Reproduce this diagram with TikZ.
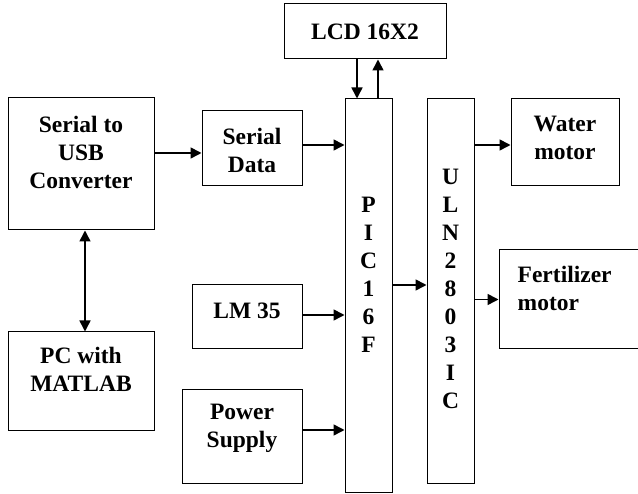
\documentclass[tikz,border=0pt]{standalone}
\usepackage{fontspec}
\setmainfont{Liberation Serif}
\usetikzlibrary{arrows.meta}

\tikzset{
  blk/.style={draw, line width=1pt, inner sep=0pt},
  txt/.style={font=\bfseries\fontsize{23.5}{28}\selectfont, align=center, inner sep=0pt},
  conn/.style={line width=1.6pt, >={Triangle[length=11pt,width=11pt]}}
}

\begin{document}
\begin{tikzpicture}[x=1pt, y=-1pt]
    \useasboundingbox (0,0) rectangle (638,494);
    % blocks
    \node[blk, minimum width=146, minimum height=132,
      label={[txt,yshift=12pt]center:Serial to\\USB\\Converter}] (usb) at (81,164) {};
    \node[blk, minimum width=146, minimum height=99,
      label={[txt,yshift=12pt]center:PC with\\MATLAB}] (pc) at (81,381.5) {};
    \node[blk, minimum width=100, minimum height=75,
      label={[txt,yshift=-1.5pt]center:Serial\\Data}] (ser) at (252,148.5) {};
    \node[blk, minimum width=110, minimum height=64,
      label={[txt,yshift=6pt]center:LM 35}] (lm) at (247,317) {};
    \node[blk, minimum width=120, minimum height=94,
      label={[txt,yshift=8.5pt]center:Power\\Supply}] (pwr) at (242,437) {};
    \node[blk, minimum width=162, minimum height=55,
      label={[txt]center:LCD 16X2}] (lcd) at (365,31.5) {};
    \node[blk, minimum width=47, minimum height=394,
      label={[txt,yshift=21pt]center:P\\I\\C\\1\\6\\F}] (pic) at (368.5,296) {};
    \node[blk, minimum width=47, minimum height=385,
      label={[txt,yshift=2.5pt]center:U\\L\\N\\2\\8\\0\\3\\I\\C}] (uln) at (450.5,291.5) {};
    \node[blk, minimum width=108, minimum height=87,
      label={[txt,yshift=4.5pt]center:Water\\motor}] (water) at (565,142.5) {};
    \node[blk, minimum width=149, minimum height=99,
      label={[txt,align=left,anchor=west,xshift=19pt,yshift=11pt]west:Fertilizer\\motor}] (fert) at (573.5,299.5) {};
    % connectors
    \draw[conn,<->] ([xshift=4pt]usb.south) -- ([xshift=4pt]usb.south |- pc.north);
    \draw[conn,->] ([yshift=11pt]usb.east) -- ([yshift=11pt]usb.east -| ser.west);
    \draw[conn,->] ([yshift=3.5pt]ser.east) -- ([yshift=3.5pt]ser.east -| pic.west);
    \draw[conn,->] ([yshift=2pt]lm.east) -- ([yshift=2pt]lm.east -| pic.west);
    \draw[conn,->] ([yshift=7pt]pwr.east) -- ([yshift=7pt]pwr.east -| pic.west);
    \draw[conn,->] ([xshift=-8pt]lcd.south) -- ([xshift=-8pt]lcd.south |- pic.north);
    \draw[conn,->] ([xshift=13pt]lcd.south |- pic.north) -- ([xshift=13pt]lcd.south);
    \draw[conn,->] ([yshift=11pt]pic.east) -- ([yshift=11pt]pic.east -| uln.west);
    \draw[conn,->] ([yshift=-2.5pt]water.west -| uln.east) -- ([yshift=-2.5pt]water.west);
    \draw[conn,->] (fert.west -| uln.east) -- (fert.west);
\end{tikzpicture}
\end{document}
